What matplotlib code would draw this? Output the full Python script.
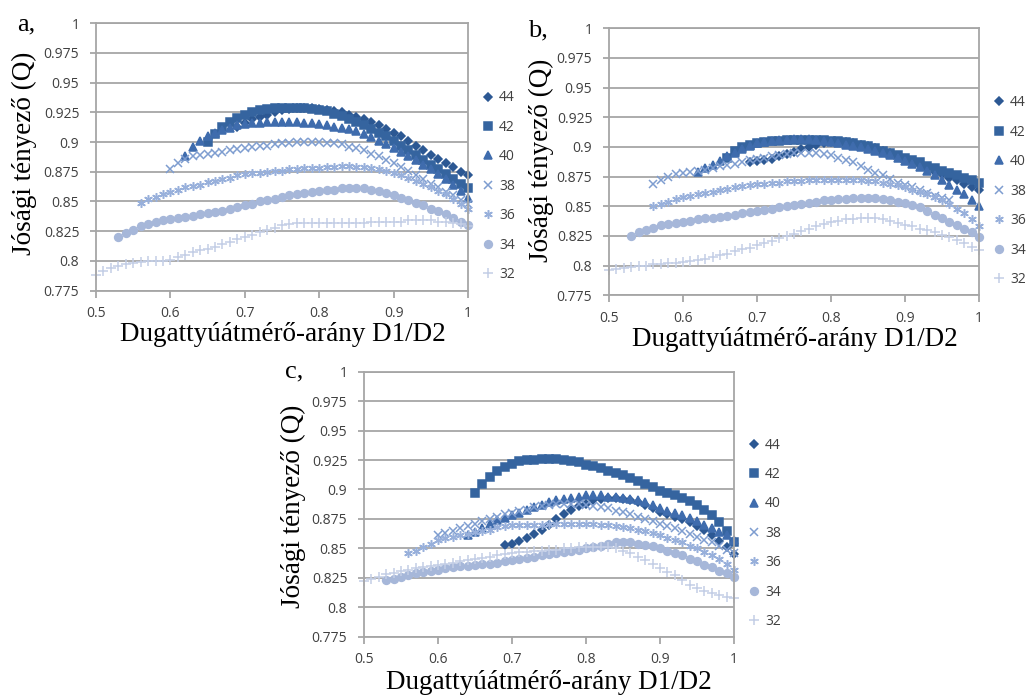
import numpy as np
import matplotlib.pyplot as plt
from matplotlib.ticker import MultipleLocator, FuncFormatter

plt.rcParams['font.family'] = ['Open Sans', 'DejaVu Sans']

# series order as in the legend
labels = ['44', '42', '40', '38', '36', '34', '32']

# ---- panel a ----
a_start = [0.69, 0.65, 0.62, 0.60, 0.56, 0.53, 0.50]
a_44 = [0.913, 0.916, 0.919, 0.921, 0.923, 0.925, 0.927, 0.928, 0.929, 0.929,
        0.929, 0.928, 0.927, 0.926, 0.925, 0.923, 0.921, 0.919, 0.917, 0.914,
        0.911, 0.908, 0.905, 0.901, 0.897, 0.893, 0.889, 0.886, 0.882, 0.879,
        0.875, 0.872]
a_42 = [0.900, 0.907, 0.913, 0.917, 0.920, 0.923, 0.925, 0.927, 0.928, 0.929,
        0.929, 0.929, 0.929, 0.929, 0.928, 0.927, 0.926, 0.924, 0.922, 0.919,
        0.917, 0.914, 0.911, 0.908, 0.905, 0.901, 0.897, 0.893, 0.889, 0.885,
        0.881, 0.877, 0.873, 0.869, 0.865, 0.861]
a_40 = [0.888, 0.896, 0.901, 0.905, 0.908, 0.910, 0.912, 0.914, 0.915, 0.916,
        0.916, 0.917, 0.917, 0.917, 0.917, 0.917, 0.916, 0.916, 0.915, 0.914,
        0.913, 0.912, 0.911, 0.909, 0.907, 0.904, 0.901, 0.898, 0.895, 0.892,
        0.888, 0.885, 0.881, 0.877, 0.873, 0.869, 0.864, 0.859, 0.853]
a_38 = [0.877, 0.882, 0.886, 0.888, 0.889, 0.890, 0.891, 0.892, 0.893, 0.894,
        0.895, 0.896, 0.897, 0.897, 0.898, 0.899, 0.899, 0.900, 0.900, 0.900,
        0.900, 0.899, 0.899, 0.898, 0.896, 0.895, 0.893, 0.890, 0.888, 0.885,
        0.882, 0.879, 0.876, 0.872, 0.869, 0.865, 0.862, 0.858, 0.855, 0.851,
        0.848]
a_36 = [0.849, 0.852, 0.854, 0.856, 0.858, 0.860, 0.862, 0.863, 0.864, 0.866,
        0.867, 0.869, 0.870, 0.872, 0.873, 0.874, 0.874, 0.875, 0.876, 0.876,
        0.877, 0.877, 0.878, 0.878, 0.878, 0.879, 0.879, 0.880, 0.880, 0.879,
        0.879, 0.878, 0.877, 0.876, 0.874, 0.872, 0.870, 0.867, 0.865, 0.862,
        0.859, 0.856, 0.852, 0.848, 0.844]
a_34 = [0.820, 0.823, 0.826, 0.829, 0.831, 0.833, 0.834, 0.835, 0.836, 0.837,
        0.838, 0.839, 0.840, 0.841, 0.842, 0.844, 0.845, 0.847, 0.848, 0.850,
        0.851, 0.852, 0.854, 0.855, 0.856, 0.857, 0.858, 0.859, 0.860, 0.860,
        0.861, 0.861, 0.861, 0.861, 0.860, 0.859, 0.857, 0.855, 0.853, 0.851,
        0.849, 0.847, 0.844, 0.842, 0.839, 0.836, 0.833, 0.830]
a_32 = [0.788, 0.791, 0.794, 0.796, 0.797, 0.798, 0.799, 0.800, 0.800, 0.800,
        0.801, 0.803, 0.805, 0.807, 0.809, 0.810, 0.812, 0.814, 0.816, 0.818,
        0.820, 0.822, 0.824, 0.826, 0.828, 0.830, 0.831, 0.832, 0.832, 0.832,
        0.832, 0.832, 0.832, 0.832, 0.832, 0.832, 0.832, 0.833, 0.833, 0.833,
        0.833, 0.833, 0.834, 0.834, 0.834, 0.834, 0.833, 0.833, 0.832, 0.831,
        0.829]

# ---- panel b ----
b_start = [0.69, 0.66, 0.62, 0.56, 0.56, 0.53, 0.50]
b_44 = [0.887, 0.888, 0.889, 0.890, 0.892, 0.894, 0.896, 0.898, 0.900, 0.902,
        0.903, 0.904, 0.904, 0.904, 0.903, 0.902, 0.901, 0.899, 0.897, 0.895,
        0.892, 0.890, 0.887, 0.885, 0.882, 0.879, 0.877, 0.874, 0.872, 0.869,
        0.866, 0.864]
b_42 = [0.891, 0.897, 0.900, 0.902, 0.903, 0.904, 0.905, 0.905, 0.906, 0.906,
        0.906, 0.906, 0.906, 0.906, 0.905, 0.905, 0.904, 0.903, 0.902, 0.901,
        0.899, 0.897, 0.895, 0.893, 0.891, 0.889, 0.887, 0.884, 0.882, 0.880,
        0.878, 0.876, 0.874, 0.872, 0.870]
b_40 = [0.879, 0.882, 0.885, 0.888, 0.892, 0.895, 0.898, 0.901, 0.903, 0.904,
        0.905, 0.906, 0.906, 0.907, 0.907, 0.907, 0.906, 0.905, 0.904, 0.903,
        0.902, 0.901, 0.900, 0.898, 0.897, 0.895, 0.893, 0.891, 0.888, 0.886,
        0.883, 0.880, 0.876, 0.872, 0.868, 0.864, 0.860, 0.855, 0.850]
b_38 = [0.869, 0.872, 0.875, 0.877, 0.878, 0.879, 0.880, 0.881, 0.882, 0.884,
        0.885, 0.886, 0.887, 0.889, 0.890, 0.891, 0.892, 0.893, 0.894, 0.895,
        0.895, 0.895, 0.895, 0.894, 0.893, 0.891, 0.889, 0.887, 0.884, 0.881,
        0.878, 0.876, 0.873, 0.870, 0.868, 0.866, 0.864, 0.861, 0.859, 0.857,
        0.855]
b_36 = [0.850, 0.852, 0.854, 0.856, 0.858, 0.859, 0.860, 0.861, 0.862, 0.864,
        0.865, 0.866, 0.867, 0.868, 0.869, 0.869, 0.870, 0.870, 0.871, 0.871,
        0.871, 0.872, 0.872, 0.872, 0.872, 0.872, 0.872, 0.872, 0.872, 0.871,
        0.871, 0.870, 0.869, 0.868, 0.866, 0.864, 0.862, 0.860, 0.858, 0.855,
        0.852, 0.848, 0.844, 0.839, 0.833]
b_34 = [0.825, 0.828, 0.830, 0.832, 0.834, 0.835, 0.836, 0.837, 0.838, 0.839,
        0.840, 0.840, 0.841, 0.842, 0.843, 0.844, 0.845, 0.846, 0.847, 0.848,
        0.849, 0.850, 0.851, 0.852, 0.853, 0.854, 0.855, 0.855, 0.856, 0.856,
        0.857, 0.857, 0.857, 0.857, 0.856, 0.855, 0.854, 0.853, 0.851, 0.849,
        0.846, 0.843, 0.840, 0.837, 0.834, 0.831, 0.828, 0.824]
b_32 = [0.796, 0.797, 0.798, 0.799, 0.800, 0.800, 0.801, 0.801, 0.802, 0.802,
        0.803, 0.804, 0.805, 0.806, 0.807, 0.809, 0.810, 0.812, 0.814, 0.815,
        0.817, 0.819, 0.821, 0.823, 0.825, 0.827, 0.829, 0.831, 0.833, 0.835,
        0.837, 0.838, 0.839, 0.839, 0.840, 0.840, 0.840, 0.839, 0.838, 0.836,
        0.834, 0.833, 0.831, 0.830, 0.828, 0.826, 0.824, 0.822, 0.819, 0.816,
        0.813]

# ---- panel c ----
c_start = [0.69, 0.65, 0.64, 0.60, 0.56, 0.53, 0.50]
c_44 = [0.853, 0.854, 0.856, 0.859, 0.862, 0.866, 0.870, 0.875, 0.879, 0.883,
        0.886, 0.888, 0.891, 0.892, 0.893, 0.893, 0.892, 0.891, 0.889, 0.887,
        0.884, 0.881, 0.879, 0.877, 0.875, 0.872, 0.869, 0.866, 0.861, 0.856,
        0.851, 0.845]
c_42 = [0.897, 0.905, 0.911, 0.916, 0.919, 0.922, 0.924, 0.925, 0.925, 0.926,
        0.926, 0.926, 0.925, 0.924, 0.923, 0.921, 0.920, 0.918, 0.916, 0.914,
        0.912, 0.910, 0.907, 0.905, 0.902, 0.899, 0.897, 0.895, 0.893, 0.890,
        0.887, 0.883, 0.878, 0.872, 0.865, 0.855]
c_40 = [0.861, 0.864, 0.867, 0.871, 0.874, 0.876, 0.878, 0.880, 0.883, 0.885,
        0.887, 0.889, 0.891, 0.892, 0.893, 0.894, 0.895, 0.895, 0.895, 0.894,
        0.894, 0.893, 0.892, 0.891, 0.889, 0.887, 0.884, 0.882, 0.880, 0.878,
        0.876, 0.873, 0.870, 0.867, 0.864, 0.861, 0.857]
c_38 = [0.861, 0.863, 0.865, 0.867, 0.869, 0.871, 0.873, 0.875, 0.877, 0.879,
        0.880, 0.882, 0.883, 0.885, 0.886, 0.887, 0.888, 0.888, 0.888, 0.888,
        0.887, 0.886, 0.885, 0.884, 0.882, 0.881, 0.879, 0.877, 0.875, 0.873,
        0.871, 0.869, 0.867, 0.865, 0.862, 0.860, 0.857, 0.855, 0.852, 0.849,
        0.846]
c_36 = [0.846, 0.848, 0.851, 0.854, 0.857, 0.859, 0.860, 0.861, 0.862, 0.864,
        0.865, 0.866, 0.868, 0.869, 0.870, 0.870, 0.870, 0.870, 0.870, 0.871,
        0.871, 0.871, 0.871, 0.871, 0.871, 0.871, 0.870, 0.870, 0.869, 0.868,
        0.867, 0.866, 0.865, 0.863, 0.861, 0.859, 0.857, 0.855, 0.852, 0.850,
        0.847, 0.844, 0.841, 0.837, 0.832]
c_34 = [0.823, 0.824, 0.826, 0.827, 0.829, 0.830, 0.831, 0.832, 0.833, 0.834,
        0.835, 0.835, 0.836, 0.837, 0.837, 0.838, 0.839, 0.840, 0.841, 0.842,
        0.843, 0.844, 0.845, 0.846, 0.847, 0.848, 0.849, 0.850, 0.851, 0.852,
        0.854, 0.855, 0.855, 0.855, 0.854, 0.853, 0.852, 0.850, 0.848, 0.846,
        0.844, 0.841, 0.839, 0.836, 0.834, 0.831, 0.829, 0.826]
c_32 = [0.822, 0.824, 0.826, 0.828, 0.829, 0.831, 0.832, 0.833, 0.834, 0.835,
        0.836, 0.837, 0.838, 0.839, 0.840, 0.841, 0.842, 0.843, 0.844, 0.845,
        0.846, 0.847, 0.847, 0.848, 0.848, 0.849, 0.849, 0.850, 0.850, 0.851,
        0.851, 0.851, 0.851, 0.851, 0.850, 0.848, 0.846, 0.843, 0.840, 0.837,
        0.833, 0.830, 0.827, 0.823, 0.819, 0.816, 0.814, 0.812, 0.810, 0.809,
        0.808]

# style of each series (same order as labels)
colors = ['#2c5893', '#35649f', '#3f6cad', '#7e9dd0', '#98b0db', '#a6b7d9', '#c3cee6']
markers = ['D', 's', '^', 'x', (6, 2, 0), 'o', '+']
msizes = [4.3, 5.2, 5.6, 5.6, 6.2, 5.6, 6.5]

ylab = 'Jósági tényező (Q)'
xlab = 'Dugattyúátmérő-arány D1/D2'
serif = 'Liberation Serif'


def panel(ax, starts, series):
    for i, y in enumerate(series):
        x = np.round(starts[i] + 0.01 * np.arange(len(y)), 2)
        ax.plot(x, y, ls='none', marker=markers[i], ms=msizes[i],
                color=colors[i], mec=colors[i], mew=1.1, label=labels[i],
                clip_on=False)
    ax.set_xlim(0.5, 1.0)
    ax.set_ylim(0.775, 1.0)
    ax.xaxis.set_major_locator(MultipleLocator(0.1))
    ax.yaxis.set_major_locator(MultipleLocator(0.025))
    fmt = FuncFormatter(lambda v, p: '%g' % round(v, 3))
    ax.xaxis.set_major_formatter(fmt)
    ax.yaxis.set_major_formatter(fmt)
    ax.grid(axis='y', color='#a6a6a6', lw=1.3)
    ax.set_axisbelow(True)
    for s in ax.spines.values():
        s.set_color('#a6a6a6')
        s.set_linewidth(1.3)
    ax.tick_params(axis='both', colors='#a6a6a6', labelcolor='#404040',
                   labelsize=10, width=1.3)
    ax.tick_params(axis='x', pad=6, length=5)
    ax.tick_params(axis='y', pad=8, length=4)
    ax.legend(loc='center left', bbox_to_anchor=(1.035, 0.39), frameon=False,
              fontsize=10, labelspacing=1.04, handlelength=1.0,
              handletextpad=0.3, borderaxespad=0, borderpad=0,
              labelcolor='#404040')


fig = plt.figure(figsize=(10.31, 6.97), dpi=100)
W, H = 1031.0, 697.0

ax_a = fig.add_axes([96 / W, 1 - 290.5 / H, 372 / W, 267.2 / H])
panel(ax_a, a_start, [a_44, a_42, a_40, a_38, a_36, a_34, a_32])
ax_b = fig.add_axes([609 / W, 1 - 295.3 / H, 370 / W, 267 / H])
panel(ax_b, b_start, [b_44, b_42, b_40, b_38, b_36, b_34, b_32])
ax_c = fig.add_axes([364 / W, 1 - 636.7 / H, 370 / W, 265 / H])
panel(ax_c, c_start, [c_44, c_42, c_40, c_38, c_36, c_34, c_32])

# panel letters and axis titles
fig.text(17 / W, 1 - 30 / H, 'a,', family=serif, fontsize=19, va='baseline', ha='left')
fig.text(528 / W, 1 - 36 / H, 'b,', family=serif, fontsize=19, va='baseline', ha='left')
fig.text(285 / W, 1 - 377 / H, 'c,', family=serif, fontsize=19, va='baseline', ha='left')

fig.text(24 / W, 1 - 153 / H, ylab, family=serif, fontsize=19.5, rotation=90,
         ha='center', va='center')
fig.text(541 / W, 1 - 160 / H, ylab, family=serif, fontsize=19.5, rotation=90,
         ha='center', va='center')
fig.text(293 / W, 1 - 506 / H, ylab, family=serif, fontsize=19.5, rotation=90,
         ha='center', va='center')

fig.text(283 / W, 1 - 341 / H, xlab, family=serif, fontsize=19.5, ha='center', va='baseline')
fig.text(795 / W, 1 - 346 / H, xlab, family=serif, fontsize=19.5, ha='center', va='baseline')
fig.text(549 / W, 1 - 689 / H, xlab, family=serif, fontsize=19.5, ha='center', va='baseline')

fig.savefig('out.png', dpi=100)
